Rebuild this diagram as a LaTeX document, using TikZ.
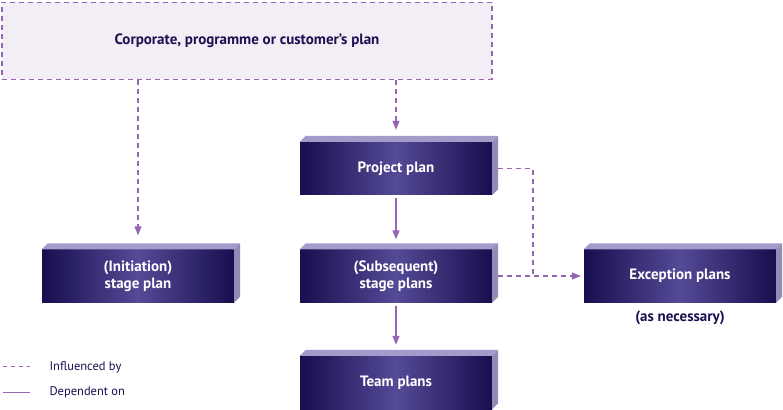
\documentclass[tikz,border=0pt]{standalone}
\usepackage{fontspec}
\setmainfont{PT Sans}
\usetikzlibrary{arrows.meta,positioning,calc}
\definecolor{planDark} {RGB}{12,  4, 66}
\definecolor{planMid}  {RGB}{84, 74,150}
\definecolor{planBevel}{RGB}{163,155,201}
\definecolor{linkPurple}{RGB}{152,100,180}
\definecolor{corpFill} {RGB}{243,238,245}
\definecolor{textNavy} {RGB}{27, 16, 80}

\pgfdeclarehorizontalshading{planglow}{100bp}{
  color(0bp)=(planDark); color(25bp)=(planDark!85!planMid);
  color(50bp)=(planMid); color(75bp)=(planDark!85!planMid);
  color(100bp)=(planDark)}

\tikzset{
  planbox/.style={shading=planglow,
                  minimum width=192pt,minimum height=53pt,inner sep=0pt,
                  align=center,text=white,font=\bfseries\fontsize{15}{17}\selectfont},
  influence/.style={draw=linkPurple,line width=1.3pt,dash pattern=on 5pt off 4pt},
  depends/.style={draw=linkPurple,line width=1.3pt},
  tip/.style={-{Triangle[length=9pt,width=7pt]}}
}

\begin{document}
\begin{tikzpicture}[x=1pt,y=1pt]
    \useasboundingbox (0,0) rectangle (783,409);

    % ── CORPORATE PLAN ────────────────────────────────────
    \node[influence,fill=corpFill,minimum width=490pt,minimum height=77pt,
          font=\bfseries\fontsize{15}{17}\selectfont,text=textNavy]
          (corp) at (247,368) {Corporate, programme or customer’s plan};

    % ── PLAN BOXES ─────────────────────────────────────────
    \node[planbox] (proj) at (396,240.5) {Project plan};
    \node[planbox] (init) at (138,133)   {(Initiation)\\stage plan};
    \node[planbox] (subs) at (396,133)   {(Subsequent)\\stage plans};
    \node[planbox] (exc)  at (680,133)   {Exception plans};
    \node[planbox] (team) at (396,26.5)  {Team plans};
    \node[font=\bfseries\fontsize{15}{17}\selectfont,text=textNavy,below=5pt of exc]
          (excnote) {(as necessary)};

    % bevelled top and side faces
    \foreach \n in {proj,init,subs,exc,team}{
      \fill[planBevel] (\n.north west) -- ++(6,6) -- ($(\n.north east)+(6,6)$)
        -- (\n.north east) -- cycle;
      \fill[planBevel!90!black] (\n.north east) -- ++(6,6) -- ($(\n.south east)+(6,6)$)
        -- (\n.south east) -- cycle;
    }

    % ── CONNECTORS ────────────────────────────────────────
    \draw[influence,tip,shorten >=14pt] (corp.south -| init.north) -- (init.north);
    \draw[influence,tip,shorten >=12pt] (corp.south -| proj.north) -- (proj.north);
    \draw[depends,tip,shorten <=3pt,shorten >=10pt] (proj.south) -- (subs.north);
    \draw[depends,tip,shorten <=3pt,shorten >=11pt] (subs.south) -- (team.north);
    \coordinate (join) at (533,133);
    \draw[influence] ([xshift=6pt]proj.east) -| (join);
    \draw[influence,tip,shorten >=3pt] ([xshift=6pt]subs.east) -- (exc.west);

    % ── LEGEND ────────────────────────────────────────────
    \node[anchor=west,text=textNavy,font=\fontsize{12.5}{14}\selectfont]
          (leginf) at (46,42) {Influenced by};
    \node[anchor=west,text=textNavy,font=\fontsize{12.5}{14}\selectfont]
          (legdep) at (46,17) {Dependent on};
    \coordinate (infa) at (3,42);  \coordinate (infb) at (30,42);
    \coordinate (depa) at (3,17);  \coordinate (depb) at (30,17);
    \draw[influence,line width=1pt,dash pattern=on 4pt off 4pt] (infa) -- (infb);
    \draw[depends,line width=1pt] (depa) -- (depb);

\end{tikzpicture}
\end{document}
